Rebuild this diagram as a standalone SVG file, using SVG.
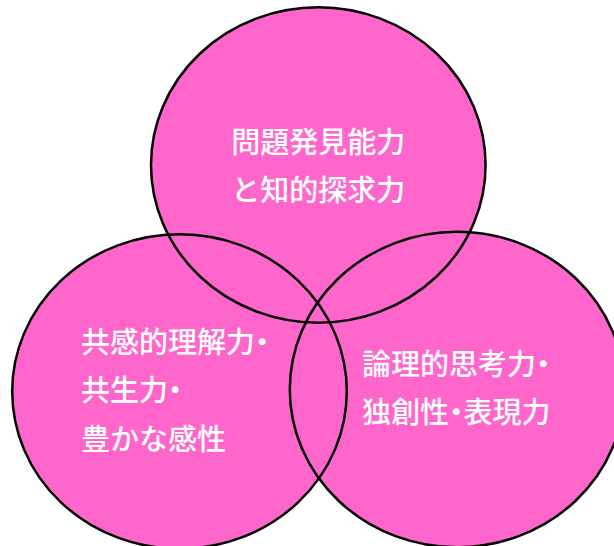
<svg xmlns="http://www.w3.org/2000/svg" width="614" height="546" viewBox="0 0 614 546">
<style>
.fill{fill:#FF66CC;stroke:none}
.ring{fill:none;stroke:#000;stroke-width:2.5}
.lbl{fill:#fff;font-family:"Noto Sans CJK JP","Noto Sans",sans-serif;font-size:29px;font-weight:500}
.dot{font-feature-settings:"palt"}
</style>
<rect width="614" height="546" fill="#fff"/>
<g id="node-top">
<ellipse class="fill" cx="318.3" cy="165" rx="167.3" ry="157.7"/>
</g>
<g id="node-left">
<ellipse class="fill" cx="179.5" cy="391.5" rx="167.3" ry="157.2"/>
</g>
<g id="node-right">
<ellipse class="fill" cx="457.1" cy="389.5" rx="167.3" ry="157.7"/>
</g>
<g id="outlines">
<ellipse class="ring" cx="318.3" cy="165" rx="167.3" ry="157.7"/>
<ellipse class="ring" cx="179.5" cy="391.5" rx="167.3" ry="157.2"/>
<ellipse class="ring" cx="457.1" cy="389.5" rx="167.3" ry="157.7"/>
</g>
<g id="labels">
<text class="lbl" x="318.3" y="153" text-anchor="middle">問題発見能力</text>
<text class="lbl" x="318.3" y="201" text-anchor="middle">と知的探求力</text>
<text class="lbl" x="81" y="353">共感的理解力<tspan class="dot">・</tspan></text>
<text class="lbl" x="81" y="401">共生力<tspan class="dot">・</tspan></text>
<text class="lbl" x="81" y="449.5">豊かな感性</text>
<text class="lbl" x="362" y="375">論理的思考力<tspan class="dot">・</tspan></text>
<text class="lbl" x="362" y="423">独創性<tspan class="dot">・</tspan>表現力</text>
</g>
</svg>
